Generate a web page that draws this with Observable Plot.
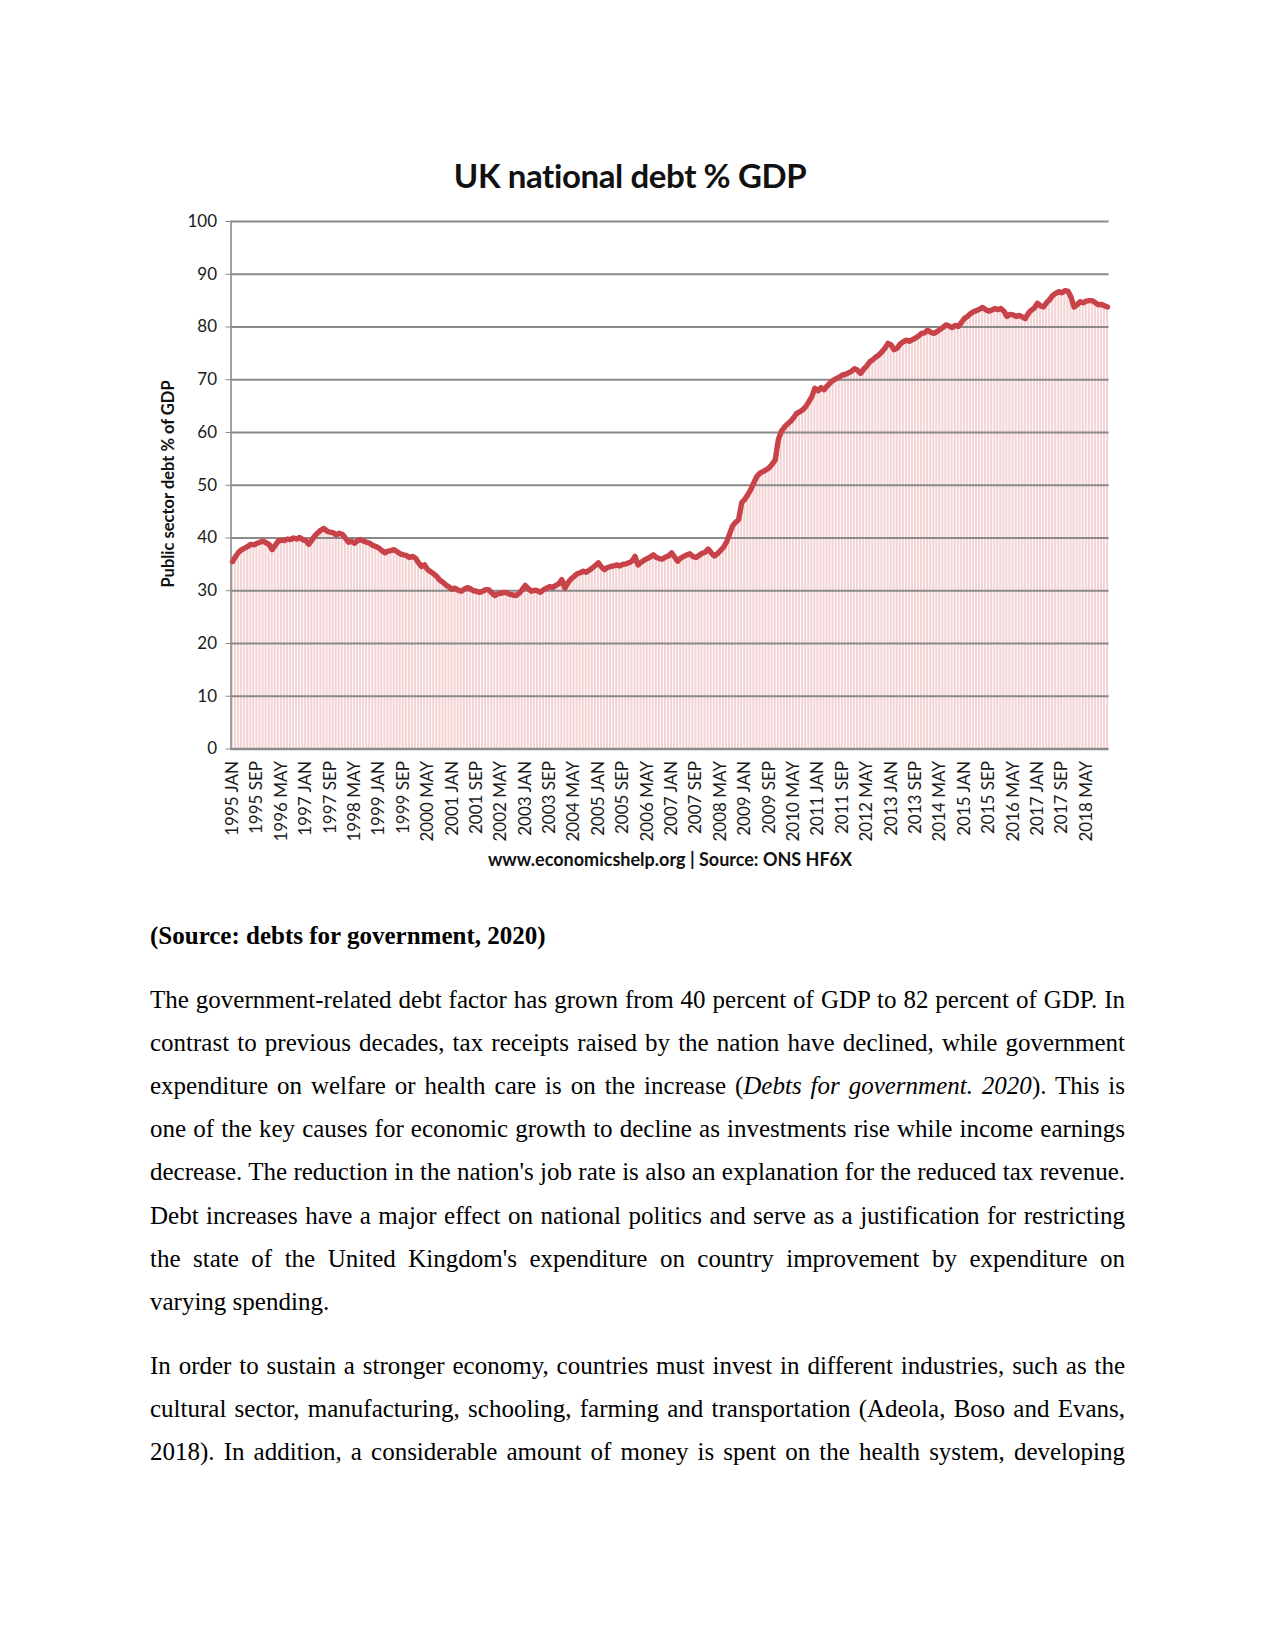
<!DOCTYPE html>
<html>
<head>
<meta charset="utf-8">
<script src="https://cdn.jsdelivr.net/npm/d3@7"></script>
<script src="https://cdn.jsdelivr.net/npm/@observablehq/plot@0.6"></script>
<style>
  html, body { margin: 0; padding: 0; background: #fff; }
  #page { position: relative; width: 1275px; height: 1651px; overflow: hidden; background: #fff; }
  .chart-text { font-family: Lato, "Open Sans", sans-serif; color: #111; }
  #title { position: absolute; left: 0; width: 1260px; top: 155px; text-align: center; font-weight: 700; font-size: 33px; letter-spacing: -0.4px; }
  #plot { position: absolute; left: 120px; top: 195px; }
  #ylabel { position: absolute; left: 168px; top: 484px; width: 0; height: 0; }
  #ylabel span { position: absolute; left: 0; top: 0; transform: translate(-50%, -50%) rotate(-90deg); white-space: nowrap; font-weight: 700; font-size: 16.5px; }
  #caption { position: absolute; left: 0; width: 1340px; top: 848px; text-align: center; font-weight: 700; font-size: 18px; }
  #doc { position: absolute; left: 150px; width: 975px; top: 914px; font-family: "Liberation Serif", "Times New Roman", serif; font-size: 25px; line-height: 43.1px; color: #000; }
  #doc p { margin: 0 0 21px 0; text-align: justify; }
  #doc p.last { text-align-last: justify; }
</style>
</head>
<body>
<div id="page">
  <div id="title" class="chart-text">UK national debt % GDP</div>
  <div id="plot"></div>
  <div id="ylabel" class="chart-text"><span>Public sector debt % of GDP</span></div>
  <div id="caption" class="chart-text">www.economicshelp.org | Source: ONS HF6X</div>
  <div id="doc">
    <p><b>(Source: debts for government, 2020)</b></p>
    <p>The government-related debt factor has grown from 40 percent of GDP to 82 percent of GDP. In contrast to previous decades, tax receipts raised by the nation have declined, while government expenditure on welfare or health care is on the increase (<i>Debts for government. 2020</i>). This is one of the key causes for economic growth to decline as investments rise while income earnings decrease. The reduction in the nation's job rate is also an explanation for the reduced tax revenue. Debt increases have a major effect on national politics and serve as a justification for restricting the state of the United Kingdom's expenditure on country improvement by expenditure on varying spending.</p>
    <p class="last">In order to sustain a stronger economy, countries must invest in different industries, such as the cultural sector, manufacturing, schooling, farming and transportation (Adeola, Boso and Evans, 2018). In addition, a considerable amount of money is spent on the health system, developing</p>
  </div>
</div>
<script>
// Category axis: years and month names (monthly data, Jan 1995 - Dec 2018)
const years = [1995,1996,1997,1998,1999,2000,2001,2002,2003,2004,2005,2006,2007,2008,2009,2010,2011,2012,2013,2014,2015,2016,2017,2018];
const monthNames = ["JAN","FEB","MAR","APR","MAY","JUN","JUL","AUG","SEP","OCT","NOV","DEC"];

// Public sector debt % of GDP, one row of 12 monthly values per year
const debt1995 = [35.5,36.5,37.3,37.8,38.1,38.4,38.8,38.7,39.0,39.2,39.4,39.1];
const debt1996 = [38.8,37.8,38.6,39.4,39.6,39.5,39.8,39.7,40.0,39.8,40.1,39.7];
const debt1997 = [39.5,38.8,39.6,40.4,41.0,41.5,41.8,41.3,41.1,41.0,40.6,40.9];
const debt1998 = [40.7,40.0,39.2,39.4,39.0,39.5,39.7,39.4,39.2,39.0,38.6,38.4];
const debt1999 = [38.1,37.6,37.2,37.5,37.6,37.8,37.4,37.0,36.8,36.7,36.3,36.5];
const debt2000 = [36.2,35.3,34.6,34.9,34.0,33.6,33.2,32.7,32.0,31.6,31.1,30.7];
const debt2001 = [30.3,30.5,30.1,29.9,30.3,30.6,30.4,30.0,29.9,29.7,29.9,30.2];
const debt2002 = [30.2,29.6,29.1,29.4,29.5,29.7,29.6,29.3,29.2,29.1,29.5,30.2];
const debt2003 = [31.0,30.4,29.9,30.1,30.0,29.7,30.2,30.5,30.8,30.6,31.0,31.3];
const debt2004 = [32.1,30.5,31.5,32.2,32.7,33.2,33.4,33.7,33.5,33.9,34.3,34.8];
const debt2005 = [35.3,34.5,34.0,34.4,34.6,34.7,34.9,34.7,35.0,35.1,35.3,35.6];
const debt2006 = [36.5,34.9,35.4,35.8,36.1,36.4,36.8,36.3,36.1,36.0,36.4,36.6];
const debt2007 = [37.2,36.4,35.6,36.2,36.5,36.8,37.0,36.5,36.3,36.7,37.1,37.3];
const debt2008 = [37.9,37.2,36.6,37.0,37.6,38.2,39.2,40.7,42.3,43.0,43.5,46.7];
const debt2009 = [47.3,48.2,49.2,50.5,51.7,52.3,52.6,52.9,53.3,54.0,54.8,58.6];
const debt2010 = [60.2,61.0,61.6,62.1,62.8,63.6,63.9,64.3,64.9,65.8,66.8,68.4];
const debt2011 = [67.9,68.5,68.1,68.8,69.4,69.9,70.2,70.5,70.9,71.0,71.3,71.6];
const debt2012 = [72.1,71.8,71.2,72.0,72.6,73.4,73.8,74.3,74.7,75.3,76.0,76.9];
const debt2013 = [76.6,75.7,76.0,76.8,77.2,77.5,77.3,77.6,77.9,78.3,78.8,78.9];
const debt2014 = [79.4,79.0,78.8,79.1,79.5,79.9,80.4,80.2,79.9,80.3,80.1,80.8];
const debt2015 = [81.6,82.0,82.5,82.9,83.1,83.4,83.7,83.3,83.0,83.2,83.5,83.3];
const debt2016 = [83.5,83.0,82.0,82.4,82.3,82.0,82.2,81.9,81.6,82.6,83.2,83.6];
const debt2017 = [84.5,84.0,83.8,84.6,85.2,86.0,86.4,86.7,86.5,86.9,86.8,85.7];
const debt2018 = [83.8,84.2,84.8,84.6,84.9,85.0,85.0,84.6,84.2,84.3,84.0,83.8];

// Tick labels shown on the x axis (every 8th month)
const tickLabels = ["1995 JAN","1995 SEP","1996 MAY","1997 JAN","1997 SEP","1998 MAY","1999 JAN","1999 SEP","2000 MAY","2001 JAN","2001 SEP","2002 MAY","2003 JAN","2003 SEP","2004 MAY","2005 JAN","2005 SEP","2006 MAY","2007 JAN","2007 SEP","2008 MAY","2009 JAN","2009 SEP","2010 MAY","2011 JAN","2011 SEP","2012 MAY","2013 JAN","2013 SEP","2014 MAY","2015 JAN","2015 SEP","2016 MAY","2017 JAN","2017 SEP","2018 MAY"];
const yTicks = [0,10,20,30,40,50,60,70,80,90,100];

const series = [debt1995,debt1996,debt1997,debt1998,debt1999,debt2000,debt2001,debt2002,debt2003,debt2004,debt2005,debt2006,debt2007,debt2008,debt2009,debt2010,debt2011,debt2012,debt2013,debt2014,debt2015,debt2016,debt2017,debt2018];

const data = [];
years.forEach((yr, yi) => {
  series[yi].forEach((v, mi) => data.push({month: yr + " " + monthNames[mi], value: v}));
});
const months = data.map(d => d.month);

const FONT = "Lato, 'Open Sans', sans-serif";
const grid = "#8a8a8a";

const chart = Plot.plot({
  width: 1010,
  height: 660,
  marginLeft: 110.5,
  marginRight: 21.4,
  marginTop: 26,
  marginBottom: 106.5,
  style: {fontFamily: FONT, color: "#1a1a1a", background: "transparent"},
  x: {type: "band", domain: months, padding: 0, round: false},
  y: {domain: [0, 100]},
  marks: [
    Plot.barY(data, {x: "month", y: "value", fill: "#f4d3d4", inset: 0.5}),
    Plot.ruleY(yTicks.filter(d => d > 0), {stroke: grid, strokeWidth: 1.8}),
    Plot.ruleY([0], {stroke: grid, strokeWidth: 2.3}),
    Plot.frame({anchor: "left", stroke: grid, strokeWidth: 1.6}),
    Plot.lineY(data, {x: "month", y: "value", stroke: "#c8424a", strokeWidth: 5.4, strokeLinejoin: "round", strokeLinecap: "round"}),
    Plot.axisY({ticks: yTicks, tickSize: 5, tickPadding: 9, fontSize: 17, label: null, stroke: grid}),
    Plot.axisX({ticks: tickLabels, tickRotate: -90, tickSize: 0, tickPadding: 12, fontSize: 17, label: null})
  ]
});
document.getElementById("plot").appendChild(chart);
</script>
</body>
</html>
